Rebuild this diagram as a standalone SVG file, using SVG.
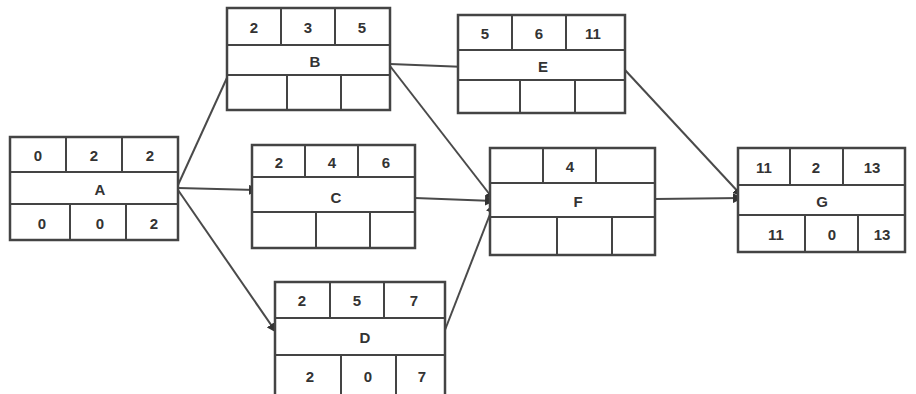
<svg xmlns="http://www.w3.org/2000/svg" width="916" height="394" viewBox="0 0 916 394">
<defs>
<style>
.box{fill:#fff;stroke:#444;stroke-width:2.5}
.ln{stroke:#444;stroke-width:2}
.t{font-family:"Liberation Sans",Arial,sans-serif;font-weight:bold;font-size:15px;fill:#333;text-anchor:middle;dominant-baseline:central}
.c{stroke:#4a4a4a;stroke-width:2;fill:none;marker-end:url(#ah)}
</style>
<marker id="ah" viewBox="0 0 10 10" refX="9" refY="5" markerWidth="5" markerHeight="5" orient="auto">
<path d="M0,0 L10,5 L0,10 z" fill="#333"/>
</marker>
</defs>
<rect width="916" height="394" fill="#fff"/>
<g id="connectors">
<line class="c" x1="178" y1="185" x2="236" y2="58"/>
<line class="c" x1="178" y1="188" x2="258" y2="190"/>
<line class="c" x1="178" y1="190" x2="276" y2="332"/>
<line class="c" x1="390" y1="64" x2="466" y2="67"/>
<line class="c" x1="390" y1="66" x2="494" y2="200"/>
<line class="c" x1="415" y1="198" x2="494" y2="201"/>
<line class="c" x1="445" y1="330" x2="494" y2="204"/>
<line class="c" x1="625" y1="70" x2="742" y2="196"/>
<line class="c" x1="655" y1="199" x2="742" y2="198"/>
</g>
<g id="nodeA">
<rect class="box" x="10" y="137" width="168" height="103"/>
<line class="ln" x1="10" y1="172" x2="178" y2="172"/>
<line class="ln" x1="10" y1="204" x2="178" y2="204"/>
<line class="ln" x1="66" y1="137" x2="66" y2="172"/>
<line class="ln" x1="122" y1="137" x2="122" y2="172"/>
<line class="ln" x1="70" y1="204" x2="70" y2="240"/>
<line class="ln" x1="126" y1="204" x2="126" y2="240"/>
<text class="t" x="38" y="155">0</text><text class="t" x="94" y="155">2</text><text class="t" x="150" y="155">2</text>
<text class="t" x="100" y="189">A</text>
<text class="t" x="42" y="223">0</text><text class="t" x="100" y="223">0</text><text class="t" x="154" y="223">2</text>
</g>
<g id="nodeB">
<rect class="box" x="227" y="8" width="163" height="102"/>
<line class="ln" x1="227" y1="45" x2="390" y2="45"/>
<line class="ln" x1="227" y1="75" x2="390" y2="75"/>
<line class="ln" x1="281" y1="8" x2="281" y2="45"/>
<line class="ln" x1="335" y1="8" x2="335" y2="45"/>
<line class="ln" x1="287" y1="75" x2="287" y2="110"/>
<line class="ln" x1="341" y1="75" x2="341" y2="110"/>
<text class="t" x="254" y="27">2</text><text class="t" x="308" y="27">3</text><text class="t" x="362" y="27">5</text>
<text class="t" x="315" y="61">B</text>
</g>
<g id="nodeE">
<rect class="box" x="458" y="15" width="167" height="98"/>
<line class="ln" x1="458" y1="50" x2="625" y2="50"/>
<line class="ln" x1="458" y1="80" x2="625" y2="80"/>
<line class="ln" x1="512" y1="15" x2="512" y2="50"/>
<line class="ln" x1="566" y1="15" x2="566" y2="50"/>
<line class="ln" x1="520" y1="80" x2="520" y2="113"/>
<line class="ln" x1="575" y1="80" x2="575" y2="113"/>
<text class="t" x="485" y="33">5</text><text class="t" x="539" y="33">6</text><text class="t" x="593" y="33">11</text>
<text class="t" x="543" y="66">E</text>
</g>
<g id="nodeC">
<rect class="box" x="252" y="145" width="163" height="103"/>
<line class="ln" x1="252" y1="177" x2="415" y2="177"/>
<line class="ln" x1="252" y1="212" x2="415" y2="212"/>
<line class="ln" x1="305" y1="145" x2="305" y2="177"/>
<line class="ln" x1="358" y1="145" x2="358" y2="177"/>
<line class="ln" x1="316" y1="212" x2="316" y2="248"/>
<line class="ln" x1="370" y1="212" x2="370" y2="248"/>
<text class="t" x="279" y="162">2</text><text class="t" x="332" y="162">4</text><text class="t" x="386" y="162">6</text>
<text class="t" x="336" y="197">C</text>
</g>
<g id="nodeF">
<rect class="box" x="490" y="148" width="165" height="107"/>
<line class="ln" x1="490" y1="183" x2="655" y2="183"/>
<line class="ln" x1="490" y1="217" x2="655" y2="217"/>
<line class="ln" x1="543" y1="148" x2="543" y2="183"/>
<line class="ln" x1="596" y1="148" x2="596" y2="183"/>
<line class="ln" x1="557" y1="217" x2="557" y2="255"/>
<line class="ln" x1="612" y1="217" x2="612" y2="255"/>
<text class="t" x="570" y="166">4</text>
<text class="t" x="578" y="201">F</text>
</g>
<g id="nodeG">
<rect class="box" x="738" y="148" width="167" height="104"/>
<line class="ln" x1="738" y1="185" x2="905" y2="185"/>
<line class="ln" x1="738" y1="215" x2="905" y2="215"/>
<line class="ln" x1="790" y1="148" x2="790" y2="185"/>
<line class="ln" x1="843" y1="148" x2="843" y2="185"/>
<line class="ln" x1="805" y1="215" x2="805" y2="252"/>
<line class="ln" x1="858" y1="215" x2="858" y2="252"/>
<text class="t" x="764" y="167">11</text><text class="t" x="816" y="167">2</text><text class="t" x="872" y="167">13</text>
<text class="t" x="822" y="201">G</text>
<text class="t" x="776" y="234">11</text><text class="t" x="832" y="234">0</text><text class="t" x="882" y="234">13</text>
</g>
<g id="nodeD">
<rect class="box" x="275" y="282" width="170" height="120"/>
<line class="ln" x1="275" y1="318" x2="445" y2="318"/>
<line class="ln" x1="275" y1="355" x2="445" y2="355"/>
<line class="ln" x1="330" y1="282" x2="330" y2="318"/>
<line class="ln" x1="384" y1="282" x2="384" y2="318"/>
<line class="ln" x1="341" y1="355" x2="341" y2="394"/>
<line class="ln" x1="396" y1="355" x2="396" y2="394"/>
<text class="t" x="302" y="300">2</text><text class="t" x="357" y="300">5</text><text class="t" x="414" y="300">7</text>
<text class="t" x="365" y="337">D</text>
<text class="t" x="310" y="376">2</text><text class="t" x="368" y="376">0</text><text class="t" x="422" y="376">7</text>
</g>
</svg>
